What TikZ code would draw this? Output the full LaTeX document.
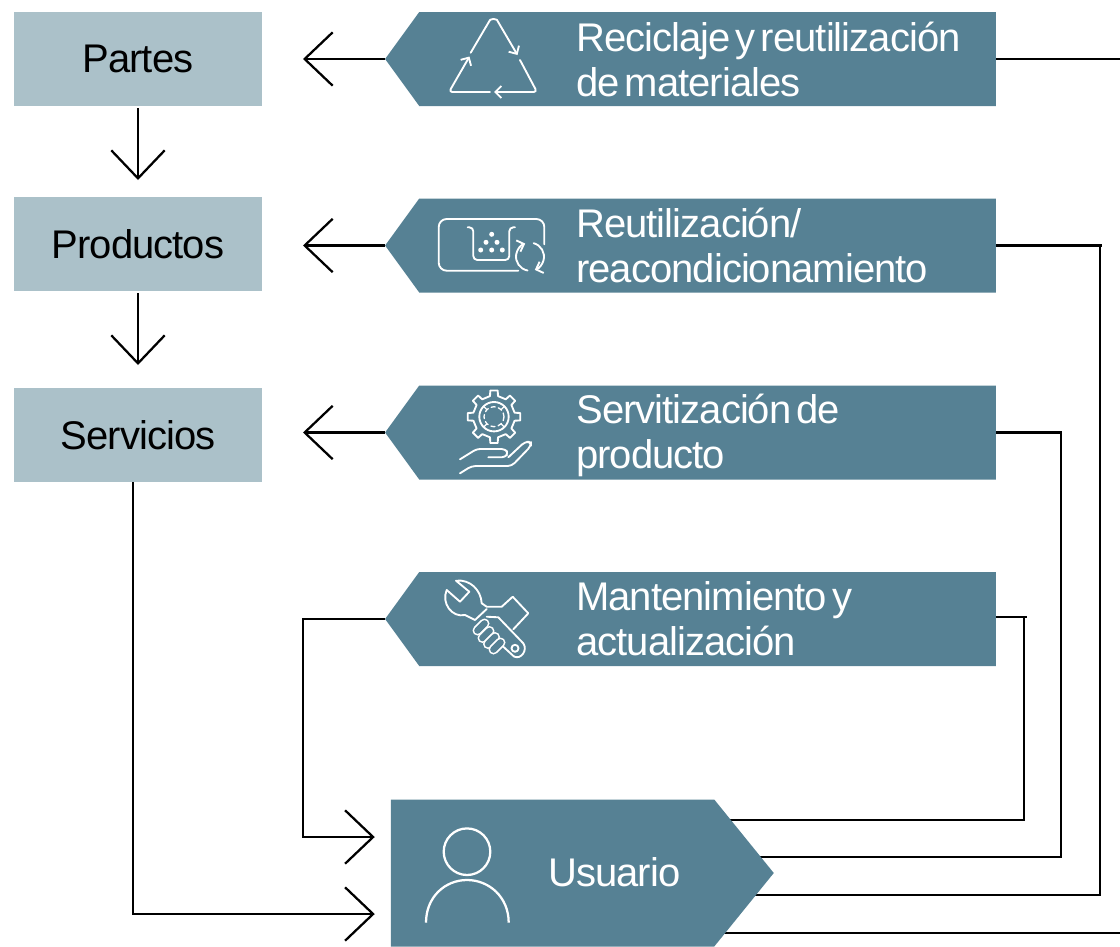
\documentclass[tikz,border=0pt]{standalone}
\usepackage{fontspec}
\setmainfont{Liberation Sans}[LetterSpace=-2.4,WordSpace=0.5]
\usetikzlibrary{arrows.meta,shapes.symbols,backgrounds}
\definecolor{bannerteal}{HTML}{568194}
\definecolor{boxgrey}{HTML}{ABC1C9}
\begin{document}
\begin{tikzpicture}[x=0.75pt,y=-0.75pt,
    levelbox/.style={fill=boxgrey,minimum width=186pt,minimum height=70.5pt,inner sep=0pt,outer sep=0pt,font=\fontsize{30}{34}\selectfont},
    banner/.style={signal,signal to=west,signal from=nowhere,signal pointer angle=108,fill=bannerteal,draw=none,minimum width=458pt,minimum height=70.5pt,inner sep=0pt,outer sep=0pt},
    bannertext/.style={anchor=west,align=left,text=white,inner sep=0pt,font=\fontsize{30}{33.75}\selectfont},
    link/.style={line width=1.7pt,black},
    barb/.style={link,-{Straight Barb[length=21pt,width=40pt,line width=1.7pt]}},
    icon/.style={white,line width=1.4pt,line join=round,line cap=round},
    iconhead/.style={icon,-{Straight Barb[length=4.5pt,width=9pt,line width=1.4pt]}}]
    \useasboundingbox (0,0) rectangle (1120,946);

    % Level boxes on the left
    \node[levelbox] (partes) at (138,59) {\raisebox{1pt}{Partes}};
    \node[levelbox] (productos) at (138,244) {Productos};
    \node[levelbox] (servicios) at (138,435) {Servicios};

    % Banners and their texts
    \node[banner] (reciclaje) at (707.5,59) {};
    \node[banner] (reutilizacion) at (707.5,245.5) {};
    \node[banner] (servitizacion) at (707.5,432.5) {};
    \node[banner] (mantenimiento) at (707.5,619) {};
    \node[bannertext] (reciclajetext) at (576,59) {Reciclaje y reutilización\\de materiales};
    \node[bannertext] (reutilizaciontext) at (576,245.5) {Reutilización/\\reacondicionamiento};
    \node[bannertext] (servitizaciontext) at (576,435.5) {Servitización de\\producto};
    \node[bannertext] (mantenimientotext) at (576,619) {Mantenimiento y\\actualización};

    % User block
    \node[banner,signal to=east,signal pointer angle=102,minimum width=287.25pt,minimum height=110.25pt] (usuario) at (552.5,873) {};
    \node[bannertext] (usuariotext) at (548,872) {Usuario};

    % Free ends
    \coordinate (recycleout) at (1120,59);
    \coordinate (bottomout) at (1120,933);

    % Arrows into the level boxes
    \draw[barb,shorten >=30.75pt] (reciclaje.west) -- (reciclaje.west -| partes.east);
    \draw[barb,shorten >=30.75pt] (reutilizacion.west) -- (reutilizacion.west -| productos.east);
    \draw[barb,shorten >=30.75pt] (servitizacion.west) -- (servitizacion.west -| servicios.east);
    \draw[barb,shorten <=1.5pt,shorten >=12.75pt] (partes.south) -- (productos.north);
    \draw[barb,shorten <=1.5pt,shorten >=17.25pt] (productos.south) -- (servicios.north);

    % Arrows into the user block
    \draw[barb,shorten >=12pt] (servicios.south -| 133,0) |- (usuario.west |- 0,914);
    \draw[barb,shorten >=12pt] (mantenimiento.west) -- (303,619) |- (usuario.west |- 0,837);

    % Lines leaving on the right
    \begin{scope}[on background layer]
    \draw[link] (reciclaje.east) -- (recycleout);
    \draw[link] (reutilizacion.east) -- (1102,245.5) (1100,245.5) |- (usuario.center |- 0,895);
    \draw[link] (servitizacion.east) -| (1061,857) -- (usuario.center |- 0,857);
    \draw[link] (mantenimiento.east |- 0,617) -- (1027,617) (1024,617) |- (usuario.center |- 0,820);
    \draw[link] (usuario.center |- bottomout) -- (bottomout);
    \end{scope}

    % Recycling icon
    \draw[iconhead] (490,20) [rounded corners=2.5pt] -- (493.5,18) [sharp corners] -- (497,20) -- (517.5,55);
    \draw[iconhead] (520,60) [rounded corners=2.5pt] -- (537,92) -- (494,92);
    \draw[iconhead] (490,92) [rounded corners=2.5pt] -- (449,92) -- (469.5,56.5);
    \draw[icon] (470.7,52.7) -- (490,20);

    % Reuse icon
    \draw[icon,rounded corners=6pt] (518.3,270.7) -- (438.7,270.7) -- (438.7,219) -- (544.3,219) -- (544.3,244.3);
    \draw[icon,rounded corners=3pt] (467.7,227.3) -- (473.3,227.3) -- (473.3,260) -- (509.3,260) -- (509.3,227.3) -- (515,227.3);
    \foreach \dotx/\doty in {491.7/234.3,486/242.3,497/242.3,480.7/250,491.7/250,502.3/250}
        \fill[white] (\dotx,\doty) circle (2.5);
    \draw[iconhead] (530,256.7) ++(100:14) arc (100:250:14);
    \draw[iconhead] (530,256.7) ++(285:14) arc (285:430:14);

    % Gear and hand icon
    \draw[icon] ({494+21*cos(-11)},{416.7+21*sin(-11)}) \foreach \gearangle in {0,45,...,315} {
        -- ({494+21*cos(\gearangle-11)},{416.7+21*sin(\gearangle-11)})
        -- ({494+26.5*cos(\gearangle-8)},{416.7+26.5*sin(\gearangle-8)})
        -- ({494+26.5*cos(\gearangle+8)},{416.7+26.5*sin(\gearangle+8)})
        -- ({494+21*cos(\gearangle+11)},{416.7+21*sin(\gearangle+11)})
    } -- cycle;
    \draw[icon] (494,416.7) circle (14.7);
    \draw[icon,line width=1pt,dash pattern=on 3pt off 2.5pt] (494,416.7) circle (10);
    \foreach \spokeangle in {45,135,225,315}
        \draw[icon,line width=1pt] (494,416.7) ++(\spokeangle:10) -- ++(\spokeangle:4.5);
    \draw[icon,rounded corners=2.5pt] (460,459.3) -- (476.7,449) -- (505,449) -- (508.3,453) -- (505,457.3) -- (488.3,457.3);
    \draw[icon,rounded corners=3pt] (508.3,457.3) -- (525,441.7) -- (531,441.7) -- (531,446) -- (511.7,466) -- (471.7,466) -- (460,473.3);

    % Wrench and hand icon
    \draw[icon] (446.7,590) -- (460,601.7) -- (469.3,591.7) -- (456,580.7)
        .. controls (470,579) and (481,590) .. (481.7,603.3)
        -- (486.7,606.7) -- (501.7,606.7) -- (512.7,596.7) -- (528.3,613.3) -- (513.3,629.3);
    \draw[icon] (446.7,590) .. controls (441,603) and (452,618) .. (465,615) -- (475,620) -- (486.7,609);
    \draw[icon] (486.7,616.7) -- (498.3,617.3) -- (523.3,643.3)
        .. controls (528,650) and (521,660) .. (514,656.5) -- (503.3,646.7);
    \draw[icon] (515,648.3) circle (3.5);
    \foreach \fingerx/\fingery in {481/627,486/634.5,491.5/640.5,497/646}{
        \draw[white,line width=7.5pt,line cap=round] (\fingerx-3.5,\fingery+3.5) -- (\fingerx+3.5,\fingery-3.5);
        \draw[bannerteal,line width=5pt,line cap=round] (\fingerx-3.5,\fingery+3.5) -- (\fingerx+3.5,\fingery-3.5);
    }

    % Person icon
    \draw[icon,line width=1.7pt] (467,851.7) circle (23.3);
    \draw[icon,line width=1.7pt,line cap=butt] (426,922.7) .. controls (426,897) and (445,880) .. (467,880) .. controls (489,880) and (508.7,897) .. (508.7,922.7);
\end{tikzpicture}
\end{document}
